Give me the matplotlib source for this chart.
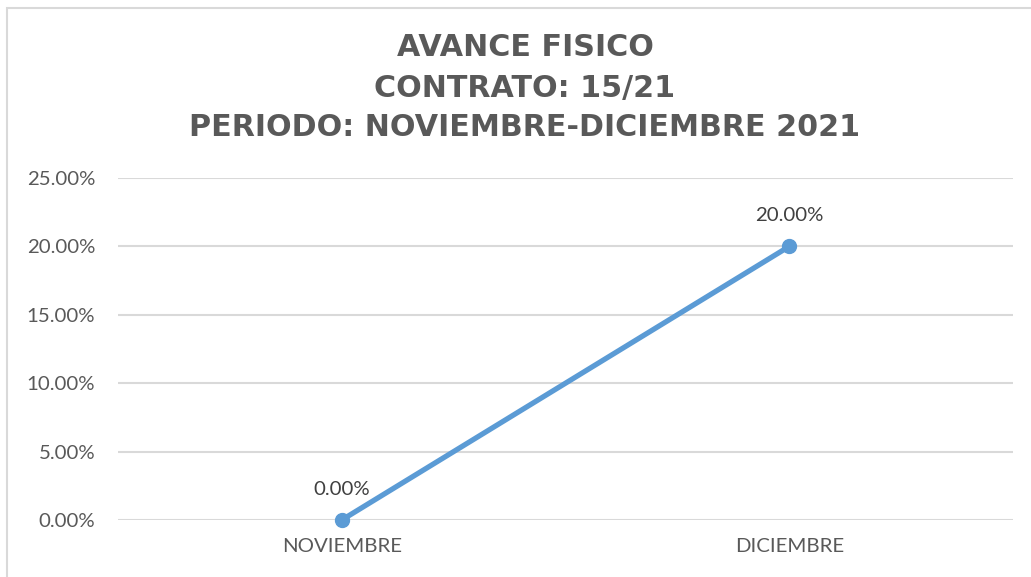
import matplotlib
matplotlib.use("Agg")
import matplotlib.pyplot as plt
from matplotlib.patches import Rectangle
from matplotlib.ticker import FuncFormatter

categories = ["NOVIEMBRE", "DICIEMBRE"]
values = [0.00, 0.20]
yticks = [0.0, 0.05, 0.10, 0.15, 0.20, 0.25]
title_lines = ["AVANCE FISICO", "CONTRATO: 15/21", "PERIODO: NOVIEMBRE-DICIEMBRE 2021"]

W, H = 1031, 577
fig = plt.figure(figsize=(W / 100, H / 100), dpi=100)
fig.patch.set_facecolor("white")

# outer frame (extends beyond right/bottom edges)
fig.patches.append(Rectangle((7 / W, -0.1), 1.2, 1 - 8 / H + 0.1, transform=fig.transFigure,
                             fill=False, edgecolor="#D9D9D9", linewidth=1.5))

left, right = 118 / W, 1013 / W
bottom, top = 1 - 520 / H, 1 - 178 / H
ax = fig.add_axes([left, bottom, right - left, top - bottom])

x = list(range(len(categories)))
ax.plot(x, values, color="#5B9BD5", linewidth=3.8, marker="o", markersize=10,
        solid_capstyle="round", zorder=3, clip_on=False)

ax.set_xlim(-0.5, len(categories) - 0.5)
ax.set_ylim(0, 0.25)
ax.set_yticks(yticks)
ax.yaxis.set_major_formatter(FuncFormatter(lambda v, p: f"{v * 100:.2f}%"))
ax.set_xticks(x)
ax.set_xticklabels(categories)
ax.grid(axis="y", color="#D9D9D9", linewidth=1.5)
ax.set_axisbelow(True)
for s in ax.spines.values():
    s.set_visible(False)
ax.tick_params(axis="both", length=0, labelsize=14.7, labelcolor="#595959")
ax.tick_params(axis="y", pad=16.5)
ax.tick_params(axis="x", pad=13)
for lab in ax.get_xticklabels() + ax.get_yticklabels():
    lab.set_fontfamily("Lato")

for xi, v in zip(x, values):
    ax.annotate(f"{v * 100:.2f}%", (xi, v), xytext=(0, 22), textcoords="offset points",
                ha="center", va="center", fontsize=14.7, color="#404040", fontfamily="Lato")

ys = [48, 88, 127]
for line, yy in zip(title_lines, ys):
    fig.text(525 / W, 1 - yy / H, line, ha="center", va="center", fontsize=21.7,
             fontweight="bold", color="#595959", fontfamily="DejaVu Sans")

fig.savefig("out.png", dpi=100, facecolor="white")
